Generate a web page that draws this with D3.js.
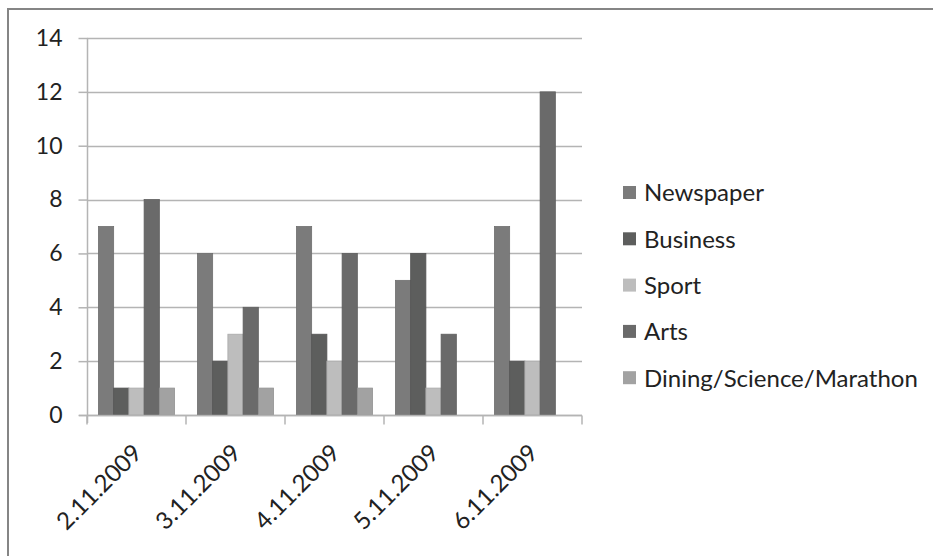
<!DOCTYPE html>
<html>
<head>
<meta charset="utf-8">
<script src="https://cdn.jsdelivr.net/npm/d3@7"></script>
<style>
  html, body { margin: 0; padding: 0; background: #fff; }
  svg { display: block; }
  text { font-family: Lato, "Open Sans", sans-serif; fill: #222; }
</style>
</head>
<body>
<svg id="chart" width="933" height="556"></svg>
<script>
// Articles per section, by day
const categories = ["2.11.2009", "3.11.2009", "4.11.2009", "5.11.2009", "6.11.2009"];
const seriesNames = ["Newspaper", "Business", "Sport", "Arts", "Dining/Science/Marathon"];
const newspaper = [7, 6, 7, 5, 7];
const business  = [1, 2, 3, 6, 2];
const sport     = [1, 3, 2, 1, 2];
const arts      = [8, 4, 6, 3, 12];
const dining    = [1, 1, 1, 0, 0];
const yTicks = [0, 2, 4, 6, 8, 10, 12, 14];
const seriesColors = ["#7b7b7b", "#5d5e5d", "#bdbdbd", "#6a6a6a", "#a2a2a2"];

const seriesValues = [newspaper, business, sport, arts, dining];

const svg = d3.select("#chart");
const W = 933, H = 556;
const plot = { left: 87, right: 582, top: 38, bottom: 415 };

// outer frame: top and left edges
svg.append("line").attr("x1", 8).attr("x2", W).attr("y1", 9).attr("y2", 9)
  .attr("stroke", "#858585").attr("stroke-width", 2);
svg.append("line").attr("x1", 8).attr("x2", 8).attr("y1", 8).attr("y2", H)
  .attr("stroke", "#858585").attr("stroke-width", 2);

const x = d3.scaleBand().domain(categories).range([plot.left, plot.right]);
// Excel-style gap width (150%): 5 bars + 1.5 bar gap per category
const barW = x.bandwidth() / 6.5;
const y = d3.scaleLinear().domain([0, 14]).range([plot.bottom, plot.top]);

// horizontal gridlines
svg.append("g")
  .selectAll("line").data(yTicks).join("line")
  .attr("x1", plot.left).attr("x2", plot.right)
  .attr("y1", d => Math.round(y(d)) + 0.5).attr("y2", d => Math.round(y(d)) + 0.5)
  .attr("stroke", "#b4b4b4").attr("stroke-width", 1.5);

// y axis
const yAxis = svg.append("g")
  .attr("transform", `translate(${plot.left + 0.5},0)`)
  .call(d3.axisLeft(y).tickValues(yTicks).tickSize(9).tickPadding(16).tickFormat(d3.format("d")));
yAxis.select(".domain").attr("stroke", "#b4b4b4").attr("stroke-width", 1.5)
  .attr("d", `M0,${plot.top}V${plot.bottom + 8}`);
yAxis.selectAll(".tick line").attr("stroke", "#b4b4b4").attr("stroke-width", 1.5);
yAxis.selectAll(".tick text").style("font-size", "23px").attr("fill", "#222");

// bars
const groups = svg.append("g").selectAll("g").data(categories).join("g")
  .attr("transform", d => `translate(${x(d)},0)`);
groups.each(function (cat, ci) {
  d3.select(this).selectAll("rect")
    .data(seriesValues.map((vals, si) => ({ si, v: vals[ci] })).filter(d => d.v > 0))
    .join("rect")
    .attr("x", d => barW * 0.75 + d.si * barW)
    .attr("width", barW)
    .attr("y", d => y(d.v))
    .attr("height", d => y(0) - y(d.v))
    .attr("fill", d => seriesColors[d.si])
    .attr("stroke", d => d3.color(seriesColors[d.si]).darker(0.3))
    .attr("stroke-width", 0.8);
});

// x axis
const xAxis = svg.append("g")
  .attr("transform", `translate(0,${plot.bottom + 0.5})`);
xAxis.append("line").attr("x1", plot.left - 8).attr("x2", plot.right)
  .attr("stroke", "#b4b4b4").attr("stroke-width", 1.5);
const tickXs = categories.map(c => x(c)).concat([plot.right]);
xAxis.selectAll(".xt").data(tickXs).join("line").attr("class", "xt")
  .attr("x1", d => d).attr("x2", d => d).attr("y1", 0).attr("y2", 9)
  .attr("stroke", "#b4b4b4").attr("stroke-width", 1.5);
xAxis.selectAll("text").data(categories).join("text")
  .attr("text-anchor", "end")
  .attr("transform", d => `translate(${x(d) + x.bandwidth() / 2 + 1},${33}) rotate(-45)`)
  .attr("dy", "0.35em")
  .style("font-size", "24px")
  .text(d => d);

// legend
const legend = svg.append("g").attr("transform", "translate(623,193)");
const items = legend.selectAll("g").data(seriesNames).join("g")
  .attr("transform", (d, i) => `translate(0,${i * 46.3})`);
items.append("rect").attr("x", 0).attr("y", -7).attr("width", 13).attr("height", 13)
  .attr("fill", (d, i) => seriesColors[i]);
items.append("text").attr("x", 21).attr("y", 0).attr("dy", "0.35em")
  .style("font-size", "24px").text(d => d);
</script>
</body>
</html>
